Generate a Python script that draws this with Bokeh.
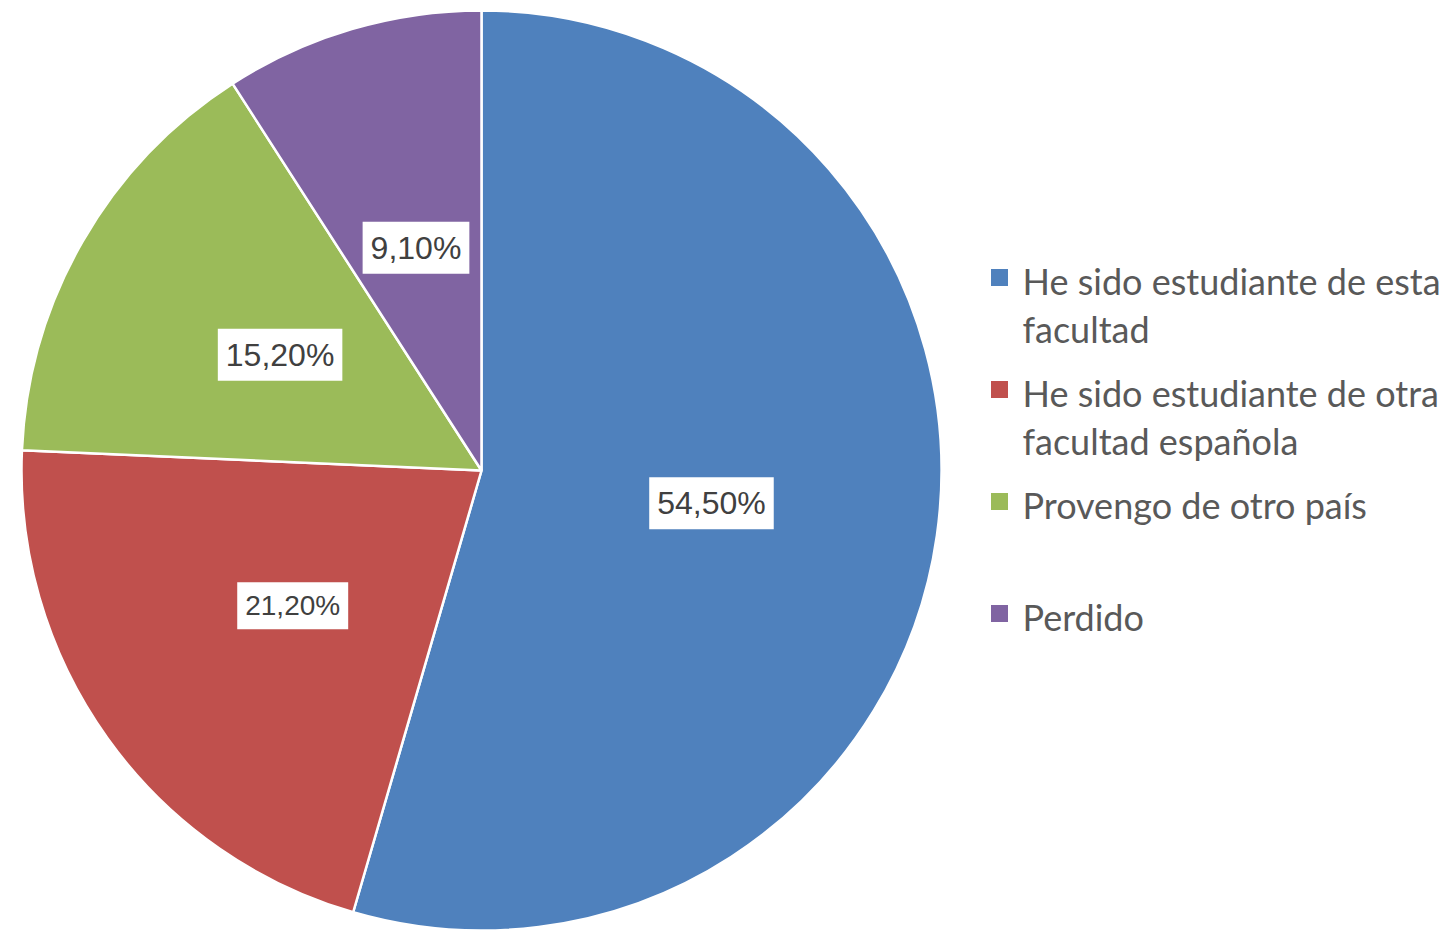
import math
from bokeh.plotting import figure
from bokeh.models import ColumnDataSource
from bokeh.core.properties import value
from bokeh.embed import file_html
from bokeh.resources import INLINE

# ---- data ----
categories = [
    "He sido estudiante de esta\nfacultad",
    "He sido estudiante de otra\nfacultad española",
    "Provengo de otro país",
    "Perdido",
]
percentages = [54.5, 21.2, 15.2, 9.1]

# ---- styles ----
colors = ["#4F81BD", "#C0504D", "#9BBB59", "#8064A2"]
label_sizes = ["32px", "28px", "32px", "32px"]

# ---- layout (pixel-unit data space) ----
W, H = 1450, 932
cx, cy, R = 481, H - 470, 460
label_dist = 0.505 * R

p = figure(width=W, height=H, x_range=(0, W), y_range=(0, H),
           output_backend="svg", toolbar_location=None, min_border=0)
p.axis.visible = False
p.grid.visible = False
p.outline_line_color = None
p.background_fill_color = "white"
p.border_fill_color = "white"

total = sum(percentages)
starts, ends, lx, ly, texts = [], [], [], [], []
acc = 0.0
for v in percentages:
    a0 = math.pi / 2 - 2 * math.pi * acc / total
    a1 = math.pi / 2 - 2 * math.pi * (acc + v) / total
    starts.append(a1)
    ends.append(a0)
    mid = (a0 + a1) / 2
    lx.append(cx + label_dist * math.cos(mid))
    ly.append(cy + label_dist * math.sin(mid))
    texts.append(f"{v:.2f}".replace(".", ",") + "%")
    acc += v

src = ColumnDataSource(dict(start=starts, end=ends, color=colors,
                            lx=lx, ly=ly, txt=texts, fs=label_sizes))
p.wedge(x=cx, y=cy, radius=R, start_angle="start", end_angle="end",
        fill_color="color", line_color="white", line_width=2.5, source=src)

p.text(x="lx", y="ly", text="txt", source=src,
       text_align="center", text_baseline="middle",
       text_font=value("Liberation Sans"), text_font_size="fs",
       text_color="#404040",
       background_fill_color="white", background_fill_alpha=1.0,
       padding=8)

# ---- legend (manual) ----
leg_x_sq = 999
leg_x_txt = 1022
leg_y0 = H - 280
leg_step = 112
line_h = 48
sq_x, sq_y, sq_c = [], [], []
t_x, t_y, t_txt = [], [], []
for i, (cat, col) in enumerate(zip(categories, colors)):
    y = leg_y0 - i * leg_step
    sq_x.append(leg_x_sq)
    sq_y.append(y + 3)
    sq_c.append(col)
    for j, line in enumerate(cat.split("\n")):
        t_x.append(leg_x_txt)
        t_y.append(y - j * line_h)
        t_txt.append(line)

p.rect(x=sq_x, y=sq_y, width=17, height=17, fill_color=sq_c, line_color=None)
p.text(x=t_x, y=t_y, text=t_txt, text_font=value("Lato"),
       text_font_size="36px", text_color="#595959",
       text_align="left", text_baseline="middle")

open("out.html", "w").write(file_html(p, INLINE))
